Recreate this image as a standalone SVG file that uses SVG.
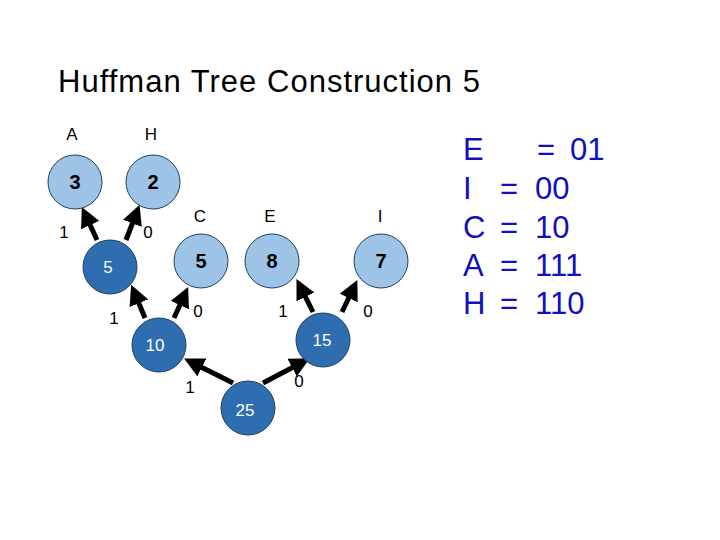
<svg xmlns="http://www.w3.org/2000/svg" width="720" height="540" viewBox="0 0 720 540">
<style>
text{font-family:"Liberation Sans",Arial,sans-serif}
.t{font-size:31px;fill:#000}
.lbl{font-size:17px;fill:#000;text-anchor:middle}
.lt circle{fill:#9DC3E6;stroke:#1F3F5F;stroke-width:1}
.dk circle{fill:#2E6DB0;stroke:#1F3F5F;stroke-width:1}
.lt text{font-size:20px;font-weight:bold;fill:#000;text-anchor:middle}
.dk text{font-size:17px;fill:#fff;text-anchor:middle}
.e line{stroke:#000;stroke-width:5;marker-end:url(#ah)}
.code{font-size:31px;fill:#1010C0}
</style>
<defs>
<marker id="ah" markerWidth="4" markerHeight="4" refX="2" refY="2" orient="auto" markerUnits="strokeWidth">
<path d="M0,0 L4,2 L0,4 z" fill="#000"/>
</marker>
</defs>
<rect width="720" height="540" fill="#fff"/>
<text class="t" x="58" y="92" textLength="422" lengthAdjust="spacing">Huffman Tree Construction 5</text>

<g id="edges" class="e">
<line x1="97" y1="240" x2="86" y2="216"/>
<line x1="126" y1="240" x2="136" y2="214"/>
<line x1="145" y1="318" x2="135" y2="294"/>
<line x1="174" y1="318" x2="184" y2="296"/>
<line x1="313" y1="312" x2="301" y2="288"/>
<line x1="342" y1="312" x2="353" y2="289"/>
<line x1="233" y1="383" x2="193" y2="363"/>
<line x1="263" y1="383" x2="301" y2="363"/>
</g>

<g id="edge-labels">
<text class="lbl" x="64" y="238">1</text>
<text class="lbl" x="148" y="238">0</text>
<text class="lbl" x="114" y="324">1</text>
<text class="lbl" x="198" y="317">0</text>
<text class="lbl" x="283" y="317">1</text>
<text class="lbl" x="368" y="317">0</text>
<text class="lbl" x="190" y="393">1</text>
<text class="lbl" x="299" y="387">0</text>
</g>

<g id="nodeA" class="lt"><circle cx="75" cy="182" r="27"/><text x="75" y="189">3</text></g>
<g id="nodeH" class="lt"><circle cx="153" cy="182" r="27"/><text x="153" y="189">2</text></g>
<g id="nodeC" class="lt"><circle cx="201" cy="261" r="27"/><text x="201" y="268">5</text></g>
<g id="nodeE" class="lt"><circle cx="272" cy="261" r="27"/><text x="272" y="268">8</text></g>
<g id="nodeI" class="lt"><circle cx="381" cy="261" r="27"/><text x="381" y="268">7</text></g>
<g id="node5" class="dk"><circle cx="110" cy="267" r="27"/><text x="108" y="273">5</text></g>
<g id="node10" class="dk"><circle cx="159" cy="345" r="27"/><text x="155" y="351">10</text></g>
<g id="node15" class="dk"><circle cx="323" cy="340" r="27"/><text x="322" y="346">15</text></g>
<g id="node25" class="dk"><circle cx="248" cy="408" r="27"/><text x="245" y="416">25</text></g>

<g id="node-labels">
<text class="lbl" x="72" y="140">A</text>
<text class="lbl" x="151" y="140">H</text>
<text class="lbl" x="200" y="222">C</text>
<text class="lbl" x="270" y="222">E</text>
<text class="lbl" x="380" y="222">I</text>
</g>

<g id="codes" class="code">
<text x="463" y="160">E</text><text x="537" y="160">=</text><text x="570" y="160">01</text>
<text x="463" y="199">I</text><text x="500" y="199">=</text><text x="535" y="199">00</text>
<text x="463" y="238">C</text><text x="500" y="238">=</text><text x="535" y="238">10</text>
<text x="463" y="276">A</text><text x="500" y="276">=</text><text x="535" y="276">111</text>
<text x="463" y="314">H</text><text x="500" y="314">=</text><text x="535" y="314">110</text>
</g>
</svg>
